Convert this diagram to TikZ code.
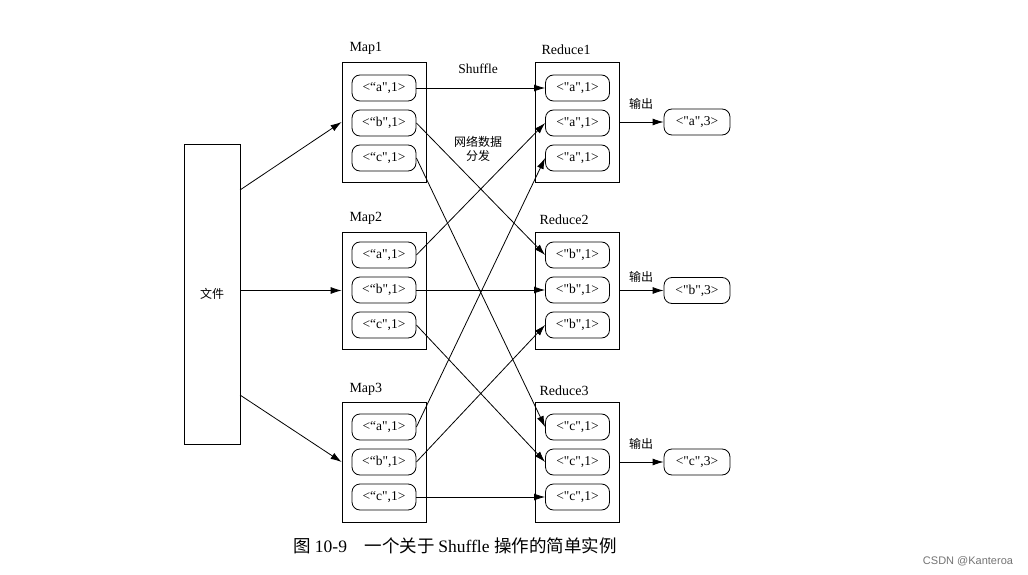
\documentclass[tikz,border=0pt]{standalone}
\usepackage{fontspec}
\setmainfont{Liberation Serif}
\newfontfamily\cjk{Noto Sans CJK SC}
\newfontfamily\markfont{Liberation Sans}
\usetikzlibrary{arrows.meta}

\begin{document}
\begin{tikzpicture}[x=1pt,y=-1pt]
        \tikzset{
        grp box/.style={draw,line width=0.8pt,minimum width=84pt,inner sep=0},
        kv node/.style={draw,line width=0.8pt,rounded corners=8pt,minimum width=64pt,minimum height=26pt,inner sep=0,font=\fontsize{13.5}{15}\selectfont},
        grp label/.style={font=\fontsize{14}{16}\selectfont,anchor=south west},
        kv edge/.style={-{Latex[length=11pt,width=7pt]},line width=0.8pt}
        }
        \useasboundingbox (0,0) rectangle (1028,575);
        % input file
        \node[draw,line width=0.8pt,minimum width=56pt,minimum height=300pt,inner sep=0] (file) at (212,294) {\cjk\fontsize{12}{14}\selectfont 文件};
        \coordinate (f1) at (240,190);
        \coordinate (f2) at (240,290.5);
        \coordinate (f3) at (240,395);

        % map side
        \node[grp box,minimum height=120pt] (map1) at (384,122) {};
        \node[grp box,minimum height=117pt] (map2) at (384,290.5) {};
        \node[grp box,minimum height=120pt] (map3) at (384,462) {};
        \node[grp label] (lm1) at (346,58) {Map1};
        \node[grp label] (lm2) at (346,228) {Map2};
        \node[grp label] (lm3) at (346,399) {Map3};
        \node[kv node] (m1a) at (384,88) {<“a\textquotedbl,1>};
        \node[kv node] (m1b) at (384,123) {<“b\textquotedbl,1>};
        \node[kv node] (m1c) at (384,158) {<“c\textquotedbl,1>};
        \node[kv node] (m2a) at (384,255) {<“a\textquotedbl,1>};
        \node[kv node] (m2b) at (384,290) {<“b\textquotedbl,1>};
        \node[kv node] (m2c) at (384,325) {<“c\textquotedbl,1>};
        \node[kv node] (m3a) at (384,427) {<“a\textquotedbl,1>};
        \node[kv node] (m3b) at (384,462) {<“b\textquotedbl,1>};
        \node[kv node] (m3c) at (384,497) {<“c\textquotedbl,1>};

        % reduce side
        \node[grp box,minimum height=120pt] (red1) at (577.5,122) {};
        \node[grp box,minimum height=117pt] (red2) at (577.5,290.5) {};
        \node[grp box,minimum height=120pt] (red3) at (577.5,462) {};
        \node[grp label] (lr1) at (538,58) {Reduce1};
        \node[grp label] (lr2) at (536,228) {Reduce2};
        \node[grp label] (lr3) at (536,399) {Reduce3};
        \node[kv node] (r1a) at (577.5,88) {<\textquotedbl a\textquotedbl,1>};
        \node[kv node] (r1b) at (577.5,123) {<\textquotedbl a\textquotedbl,1>};
        \node[kv node] (r1c) at (577.5,158) {<\textquotedbl a\textquotedbl,1>};
        \node[kv node] (r2a) at (577.5,255) {<\textquotedbl b\textquotedbl,1>};
        \node[kv node] (r2b) at (577.5,290) {<\textquotedbl b\textquotedbl,1>};
        \node[kv node] (r2c) at (577.5,325) {<\textquotedbl b\textquotedbl,1>};
        \node[kv node] (r3a) at (577.5,427) {<\textquotedbl c\textquotedbl,1>};
        \node[kv node] (r3b) at (577.5,462) {<\textquotedbl c\textquotedbl,1>};
        \node[kv node] (r3c) at (577.5,497) {<\textquotedbl c\textquotedbl,1>};

        % outputs
        \node[kv node,minimum width=66pt] (out1) at (697,122) {<\textquotedbl a\textquotedbl,3>};
        \node[kv node,minimum width=66pt] (out2) at (697,290.5) {<\textquotedbl b\textquotedbl,3>};
        \node[kv node,minimum width=66pt] (out3) at (697,462) {<\textquotedbl c\textquotedbl,3>};
        \node[font=\cjk\fontsize{12}{14}\selectfont] (o1) at (641,104) {输出};
        \node[font=\cjk\fontsize{12}{14}\selectfont] (o2) at (641,277) {输出};
        \node[font=\cjk\fontsize{12}{14}\selectfont] (o3) at (641,444) {输出};

        % shuffle notes
        \node[font=\fontsize{13.5}{15}\selectfont] (shuf) at (478,69) {Shuffle};
        \node[font=\cjk\fontsize{12}{14}\selectfont,align=center] (net) at (478,149) {网络数据\\分发};

        \path[draw]
        (f1) edge[kv edge] (map1.west)
        (f2) edge[kv edge] (map2.west)
        (f3) edge[kv edge] (map3.west)
        (m1a.east) edge[kv edge] (r1a.west)
        (m1b.east) edge[kv edge] (r2a.west)
        (m1c.east) edge[kv edge] (r3a.west)
        (m2a.east) edge[kv edge] (r1b.west)
        (m2b.east) edge[kv edge] (r2b.west)
        (m2c.east) edge[kv edge] (r3b.west)
        (m3a.east) edge[kv edge] (r1c.west)
        (m3b.east) edge[kv edge] (r2c.west)
        (m3c.east) edge[kv edge] (r3c.west)
        (red1.east) edge[kv edge] (out1.west)
        (red2.east) edge[kv edge] (out2.west)
        (red3.east) edge[kv edge] (out3.west)
        ;

        % caption and mark
        \node[font=\fontsize{17.5}{19}\selectfont] (cap) at (455,546) {\cjk 图\ \rmfamily 10-9\quad\cjk 一个关于 \rmfamily Shuffle \cjk 操作的简单实例};
        \node[font=\markfont\fontsize{11}{13}\selectfont,text=black!55] (mark) at (968,561) {CSDN @Kanteroa};
    \end{tikzpicture}
\end{document}
